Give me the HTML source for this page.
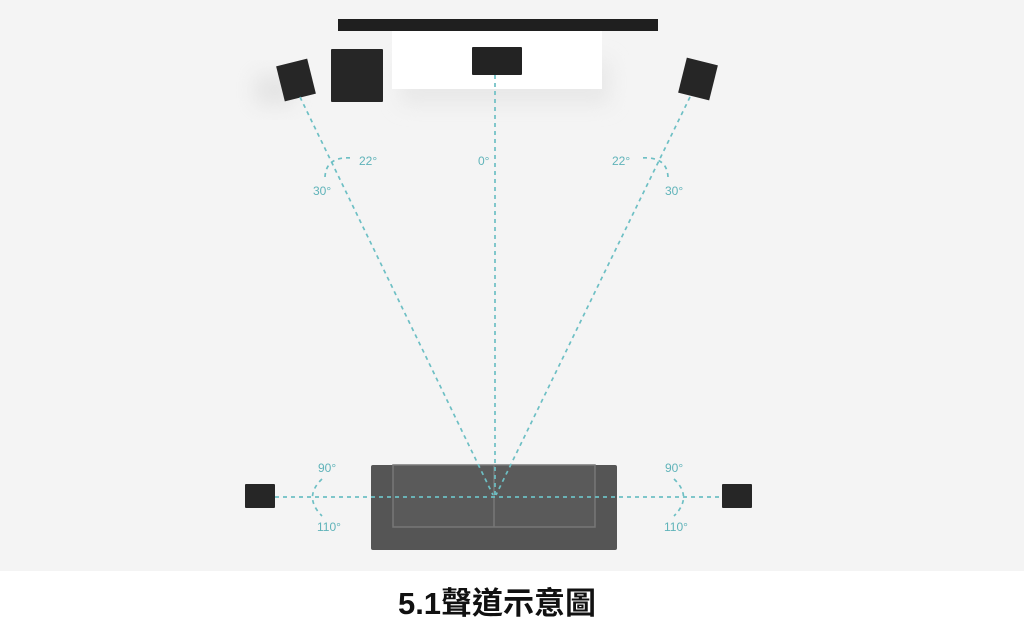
<!DOCTYPE html>
<html><head><meta charset="utf-8"><style>
html,body{margin:0;padding:0;width:1024px;height:626px;overflow:hidden;background:#fff}
svg{display:block}
</style></head><body>
<svg width="1024" height="626" viewBox="0 0 1024 626" xmlns="http://www.w3.org/2000/svg">
<defs>
<filter id="sh" x="-50%" y="-50%" width="200%" height="200%"><feGaussianBlur stdDeviation="10"/></filter>
</defs>
<rect x="0" y="0" width="1024" height="571" fill="#f4f4f4"/>
<!-- shadows -->
<rect x="400" y="60" width="210" height="45" fill="#ddd" opacity="0.5" filter="url(#sh)"/>
<rect x="255" y="75" width="40" height="30" fill="#ccc" opacity="0.4" filter="url(#sh)"/>
<!-- screen -->
<rect x="338" y="19" width="320" height="12" fill="#1f1f1f"/>
<!-- cabinet -->
<rect x="392" y="31" width="210" height="58" fill="#fff"/>
<rect x="472" y="47" width="50" height="28" fill="#232323" rx="1"/>
<!-- sub -->
<rect x="331" y="49" width="52" height="53" fill="#262626" rx="1"/>
<!-- front L/R -->
<rect x="-16" y="-18" width="32" height="36" fill="#262626" transform="translate(296,80) rotate(-14)"/>
<rect x="-16" y="-18" width="32" height="36" fill="#262626" transform="translate(698,79) rotate(14)"/>
<!-- sofa -->
<rect x="371" y="465" width="246" height="85" fill="#555" rx="2"/>
<rect x="393" y="465" width="202" height="62" fill="#5a5a5a" stroke="#777" stroke-width="1.5"/>
<line x1="494" y1="465" x2="494" y2="527" stroke="#777" stroke-width="1.5"/>
<!-- side speakers -->
<rect x="245" y="484" width="30" height="24" fill="#262626" rx="1"/>
<rect x="722" y="484" width="30" height="24" fill="#262626" rx="1"/>
<!-- dashed lines -->
<g stroke="#6dbfc4" stroke-width="1.7" stroke-dasharray="4 4" fill="none">
<line x1="300" y1="97" x2="493" y2="495"/>
<line x1="690" y1="97" x2="496" y2="495"/>
<line x1="495" y1="75" x2="495" y2="495"/>
<line x1="275" y1="497" x2="722" y2="497"/>
<path d="M325 177 Q326 156 352 158"/>
<path d="M668 177 Q667 156 641 158"/>
<path d="M322 479 Q303 497 322 516"/>
<path d="M674 479 Q693 497 674 516"/>
</g>
<g fill="#5fb3b9" font-family="Liberation Sans, sans-serif" font-size="12">
<text x="359" y="165">22°</text>
<text x="313" y="195">30°</text>
<text x="478" y="165">0°</text>
<text x="612" y="165">22°</text>
<text x="665" y="195">30°</text>
<text x="318" y="472">90°</text>
<text x="317" y="531">110°</text>
<text x="665" y="472">90°</text>
<text x="664" y="531">110°</text>
</g>
<text x="497" y="614" text-anchor="middle" font-family="Liberation Sans, 'Noto Sans CJK TC', sans-serif" font-size="31" font-weight="bold" fill="#111">5.1聲道示意圖</text>
</svg>
</body></html>
